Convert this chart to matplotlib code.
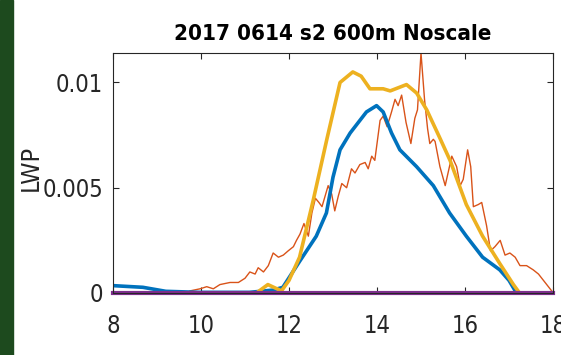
import matplotlib
matplotlib.use("Agg")
import matplotlib.pyplot as plt
from matplotlib import font_manager
from matplotlib.patches import Rectangle
import numpy as np

# blue (model, thick)
blue_x = [8.0, 8.68, 9.2, 9.97, 11.1, 11.64, 11.86, 12.24, 12.62, 12.85, 13.0, 13.16, 13.39,
          13.76, 13.99, 14.14, 14.33, 14.52, 14.9, 15.28, 15.65, 16.03, 16.4, 16.79, 17.0,
          17.17]
blue_y = [0.00035, 0.00027, 0.00008, 0.00003, 0.00003, 0.00014, 0.00027, 0.0015, 0.0027,
          0.0038, 0.0055, 0.0068, 0.0076, 0.0086, 0.0089, 0.0086, 0.0076, 0.0068, 0.0060,
          0.0051, 0.0038, 0.0027, 0.0017, 0.0011, 0.0006, 0.0]

# yellow (thick)
yel_x = [11.26, 11.52, 11.83, 12.0, 12.24, 12.55, 12.86, 13.16, 13.45, 13.64, 13.84, 14.14,
         14.3, 14.67, 14.9, 15.13, 15.42, 15.66, 16.03, 16.4, 16.79, 17.1, 17.24]
yel_y = [0.0, 0.0004, 0.0001, 0.0006, 0.0017, 0.0044, 0.0073, 0.0100, 0.0105, 0.0103,
         0.0097, 0.0097, 0.0096, 0.0099, 0.0095, 0.0087, 0.0074, 0.0063, 0.0042, 0.0027,
         0.0014, 0.0004, 0.0]

# orange (observations, thin)
obs_x = [9.67, 9.75, 9.98, 10.13, 10.28, 10.43, 10.66, 10.85, 11.0, 11.11, 11.23, 11.3,
         11.42, 11.53, 11.64, 11.76, 11.87, 11.98, 12.1, 12.17, 12.25, 12.34, 12.44, 12.52,
         12.6, 12.68, 12.75, 12.82, 12.89, 12.97, 13.04, 13.12, 13.2, 13.31, 13.42, 13.5,
         13.61, 13.73, 13.8, 13.88, 13.95, 14.07, 14.14, 14.23, 14.33, 14.41, 14.48, 14.56,
         14.66, 14.77, 14.86, 14.92, 15.0, 15.08, 15.15, 15.2, 15.28, 15.32, 15.43, 15.55,
         15.7, 15.81, 15.89, 15.96, 16.06, 16.13, 16.19, 16.3, 16.38, 16.49, 16.58, 16.68,
         16.8, 16.91, 17.02, 17.14, 17.25, 17.4, 17.55, 17.67, 17.82, 17.97, 18.0]
obs_y = [0.0, 0.0001, 0.0002, 0.0003, 0.0002, 0.0004, 0.0005, 0.0005, 0.0007, 0.0010,
         0.0009, 0.0012, 0.0010, 0.0013, 0.0019, 0.0017, 0.0018, 0.0020, 0.0022, 0.0025,
         0.0028, 0.0033, 0.0027, 0.0038, 0.0045, 0.0043, 0.0041, 0.0046, 0.0051, 0.0047,
         0.0039, 0.0046, 0.0052, 0.0050, 0.0059, 0.0057, 0.0061, 0.0062, 0.0059, 0.0065,
         0.0063, 0.0082, 0.0084, 0.0079, 0.0086, 0.0092, 0.0089, 0.0094, 0.0081, 0.0071,
         0.0083, 0.0087, 0.0114, 0.0092, 0.0078, 0.0071, 0.0073, 0.0072, 0.0060, 0.0051,
         0.0065, 0.0060, 0.0051, 0.0054, 0.0068, 0.0060, 0.0041, 0.0042, 0.0043, 0.0032,
         0.0020, 0.0022, 0.0025, 0.0018, 0.0019, 0.0017, 0.0013, 0.0013, 0.0011, 0.0009,
         0.0005, 0.0001, 0.0]

# purple (zero line)
zero_x = [8, 18]
zero_y = [0, 0]

x_ticks = [8, 10, 12, 14, 16, 18]
y_ticks = [0, 0.005, 0.01]
y_tick_labels = ["0", "0.005", "0.01"]


def find_font(keys):
    # look for a narrow / condensed face on disk
    for k in keys:
        for f in font_manager.fontManager.ttflist:
            if k.lower() in f.fname.lower().replace("-", "").replace("_", ""):
                return font_manager.FontProperties(fname=f.fname)
    return None


reg = find_font(["LiberationSansNarrowRegular", "DejaVuSansCondensed.ttf",
                 "RobotoCondensedRegular"])
bold = find_font(["LiberationSansNarrowBold.", "DejaVuSansCondensedBold",
                  "RobotoCondensedBold"])
if reg is None:
    reg = font_manager.FontProperties(family="Liberation Sans")
if bold is None:
    bold = font_manager.FontProperties(family="Liberation Sans", weight="bold")

fig = plt.figure(figsize=(5.61, 3.55), dpi=100)
fig.patches.append(Rectangle((0, 0), 13 / 561, 1, transform=fig.transFigure,
                             color="#1d4a1e", zorder=0))
ax = fig.add_axes([113 / 561, 1 - 293 / 355, 440 / 561, 240 / 355])

ax.plot(obs_x, obs_y, color=(0.85, 0.325, 0.098), lw=1.0)
ax.plot(blue_x, blue_y, color=(0.0, 0.447, 0.741), lw=2.6)
ax.plot(yel_x, yel_y, color=(0.929, 0.694, 0.125), lw=2.6)
ax.plot(zero_x, zero_y, color=(0.494, 0.184, 0.556), lw=3.0, clip_on=False)

ax.set_xlim(8, 18)
ax.set_ylim(0, 0.0114)
ax.set_xticks(x_ticks)
ax.set_yticks(y_ticks)
ax.set_yticklabels(y_tick_labels)
ax.tick_params(direction="in", length=4, width=0.8, colors="#262626",
               top=True, right=True, labelcolor="#262626")
ax.tick_params(axis="x", pad=15)
ax.tick_params(axis="y", pad=7)
for lab in ax.get_xticklabels() + ax.get_yticklabels():
    lab.set_fontproperties(reg)
    lab.set_fontsize(17)
for s in ax.spines.values():
    s.set_color("#262626")
    s.set_linewidth(0.8)

ax.set_ylabel("LWP", fontproperties=reg, fontsize=18, color="#262626")
ax.yaxis.set_label_coords(-0.16, 0.52)
ax.set_title("2017 0614 s2 600m Noscale", fontproperties=bold, fontsize=16, pad=9)

fig.savefig("out.png", dpi=100)
